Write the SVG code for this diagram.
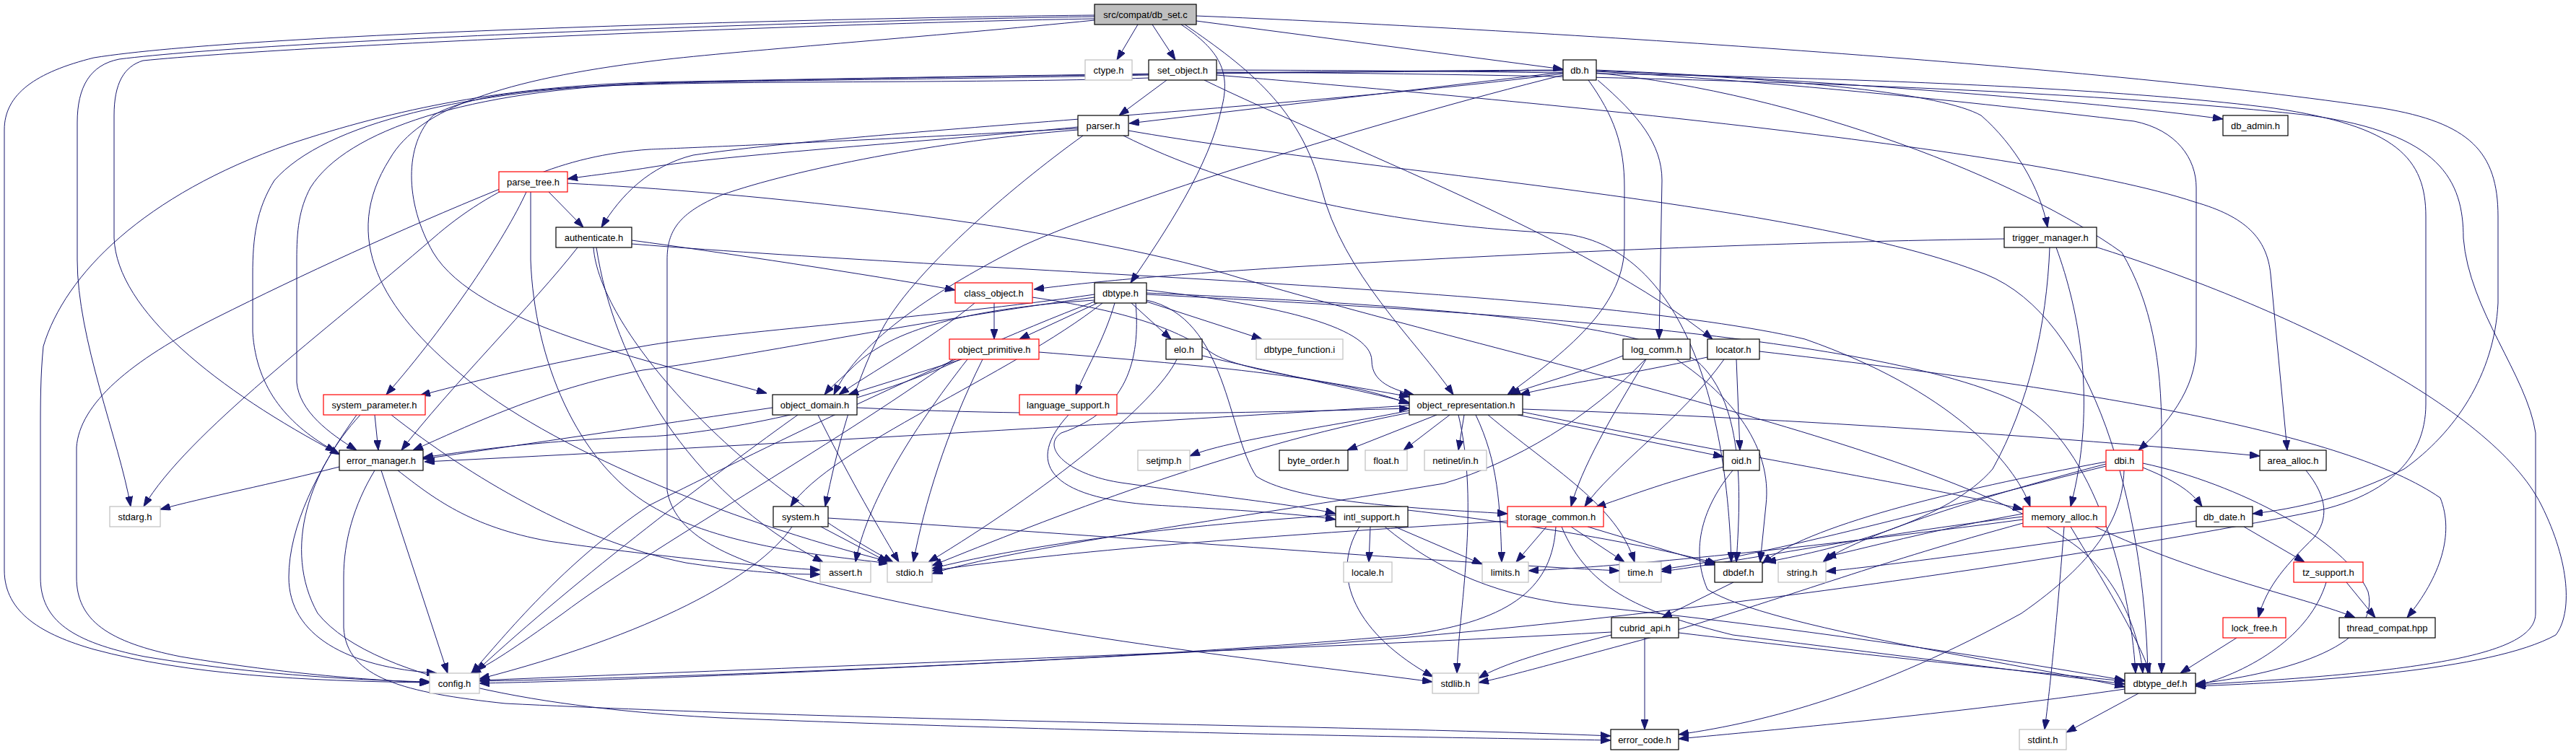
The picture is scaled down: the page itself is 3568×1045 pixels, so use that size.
<svg xmlns="http://www.w3.org/2000/svg" width="3568" height="1045" viewBox="0 0 3568 1045">
<style>
.n rect{fill:#fff;stroke:#000;stroke-width:1.2}
.n.red rect{stroke:#ff0000}
.n.ext rect{stroke:#bfbfbf}
.n.root rect{fill:#bfbfbf}
.n text{font-family:"Liberation Sans",Arial,sans-serif;font-size:13px;text-anchor:middle;fill:#000}
#edges path{fill:none;stroke:#191970;stroke-width:1;marker-end:url(#a)}
</style>
<defs>
<marker id="a" markerWidth="14" markerHeight="10" refX="14" refY="5" orient="auto" markerUnits="userSpaceOnUse"><path d="M0,0 L14,5 L0,10 z" fill="#191970" stroke="#191970" stroke-width="1"/></marker>
</defs>
<rect width="3568" height="1045" fill="#fff"/>
<g id="edges">
<path d="M1576,34 L1547,83"/>
<path d="M1596,34 L1628,83"/>
<path d="M1657,29 L2165,96"/>
<path d="M1636,34 C1690,70 1705,100 1692,150 C1675,230 1615,320 1566,392"/>
<path d="M1641,34 C1730,95 1800,150 1830,260 C1860,380 1960,470 2013,547"/>
<path d="M1516,21 C1150,25 350,45 130,80 C50,100 6,130 6,180 L6,790 C6,850 60,880 130,900 C260,935 420,944 595,946"/>
<path d="M1516,23 C1150,28 380,55 165,82 C125,90 107,120 107,170 L107,360 C107,470 165,610 181,702"/>
<path d="M1516,26 C1150,32 420,62 198,84 C172,92 158,115 158,160 L158,330 C162,430 300,540 471,630"/>
<path d="M1516,28 C1300,50 1000,72 900,85 C700,110 580,150 540,220 C470,330 530,430 640,520 C760,620 1000,720 1234,779"/>
<path d="M1657,22 C2100,40 2900,90 3300,150 C3420,170 3460,210 3460,300 L3460,420 C3455,520 3400,600 3330,650 C3250,690 3180,705 3120,712"/>
<path d="M1616,111 L1550,160"/>
<path d="M1668,111 C1850,200 2200,330 2372,470"/>
<path d="M1591,108 C1400,115 1050,112 900,117 C760,120 650,130 600,160 C560,200 560,280 600,350 C660,450 900,500 1062,545"/>
<path d="M1591,104 C1300,110 1000,112 900,116 C650,125 480,180 430,260 C414,290 411,320 411,360 L411,530 C415,570 455,600 494,624"/>
<path d="M1685,97 C2100,98 2800,105 3150,150 C3320,175 3360,220 3360,300 L3360,560 C3360,640 3300,690 3200,710 C2900,770 2300,860 1800,895 C1300,925 900,942 664,947"/>
<path d="M1685,104 C2000,130 2800,200 3040,280 C3110,300 3140,330 3145,380 L3168,624"/>
<path d="M1685,100 C2100,102 2800,115 3200,160 C3380,185 3412,250 3412,330 C3420,430 3500,520 3512,600 L3512,850 C3512,900 3400,930 3041,949"/>
<path d="M2165,100 L1564,171"/>
<path d="M2211,97 C2500,110 2900,140 3079,165"/>
<path d="M2211,98 C2500,110 2690,130 2744,160 C2790,200 2826,260 2836,315"/>
<path d="M2211,99 C2500,115 2800,150 2956,168 C3015,180 3042,220 3042,260 L3042,480 C3042,540 3000,590 2962,624"/>
<path d="M2213,111 C2270,160 2302,200 2302,250 L2298,470"/>
<path d="M2200,111 C2235,160 2250,200 2250,260 L2250,340 C2250,420 2180,480 2088,547"/>
<path d="M2165,104 C1900,170 1550,280 1418,340 C1300,400 1190,470 1155,547"/>
<path d="M2165,102 C1800,150 1200,180 960,215 C900,230 860,270 833,315"/>
<path d="M2165,98 C1700,100 1200,108 900,115 C650,125 450,170 380,250 C355,290 350,330 350,380 L350,460 C355,540 400,590 465,626"/>
<path d="M2165,97 C1700,99 1200,108 900,114 C700,120 550,150 400,200 C200,270 90,380 60,480 C56,520 56,560 56,600 L56,800 C56,860 100,890 200,910 C350,935 500,943 596,945"/>
<path d="M2211,101 C2500,130 2800,250 2939,350 C2980,420 2994,500 2994,600 L2994,933"/>
<path d="M1493,176 C1300,195 1000,215 900,232 C850,240 810,244 786,248"/>
<path d="M1493,178 C1200,195 950,205 900,207 C780,215 680,260 600,330 C450,460 260,600 199,702"/>
<path d="M1493,180 C1300,195 1100,235 1000,270 C940,295 924,320 924,360 L924,680 C935,740 1000,770 1100,800 C1400,880 1800,920 1984,945"/>
<path d="M1500,188 C1400,260 1260,380 1220,460 C1180,540 1160,620 1143,702"/>
<path d="M1563,181 C1900,240 2500,280 2750,380 C2900,440 2970,700 2975,933"/>
<path d="M1556,188 C1700,260 1900,310 2153,323 C2300,330 2390,500 2398,779"/>
<path d="M760,266 L808,315"/>
<path d="M729,266 C700,330 620,450 535,547"/>
<path d="M692,262 C550,320 420,380 300,440 C180,500 110,560 106,620 L106,800 C106,860 150,890 250,910 C400,935 520,943 596,946"/>
<path d="M735,266 L735,360 C740,500 800,640 900,700 C1000,760 1150,770 1231,781"/>
<path d="M786,254 C1100,270 1500,320 1700,380 C2100,500 2700,620 2880,760 C2950,820 2965,900 2968,933"/>
<path d="M875,333 C1000,350 1200,380 1323,402"/>
<path d="M800,343 C740,420 620,540 556,624"/>
<path d="M822,343 C830,450 1000,650 1237,779"/>
<path d="M826,343 C850,500 950,680 1140,779"/>
<path d="M875,338 C1400,380 2200,400 2500,470 C2700,540 2790,640 2812,702"/>
<path d="M2776,331 C2500,335 2180,347 1790,370 C1600,382 1500,392 1432,401"/>
<path d="M2839,343 C2835,450 2810,560 2760,650 C2700,720 2550,760 2446,779"/>
<path d="M2848,343 C2880,430 2905,560 2868,702"/>
<path d="M2902,342 C3150,420 3450,560 3520,700 C3560,780 3563,850 3540,880 C3450,930 3200,945 3041,951"/>
<path d="M1377,420 L1377,470"/>
<path d="M1350,420 C1290,470 1200,520 1162,547"/>
<path d="M1430,412 C1550,430 1620,450 1680,490 C1720,515 1850,530 1952,550"/>
<path d="M1520,420 L1412,470"/>
<path d="M1567,420 L1622,470"/>
<path d="M1588,418 L1748,470"/>
<path d="M1544,420 C1530,470 1500,520 1490,547"/>
<path d="M1516,408 C1300,440 1000,460 890,480 C750,505 650,530 582,548"/>
<path d="M1516,412 C1300,440 1000,500 890,513 C750,540 650,590 572,624"/>
<path d="M1516,416 C1300,430 1220,470 1180,510 C1165,525 1150,537 1142,547"/>
<path d="M1588,402 C1750,420 1900,450 1900,500 C1900,530 1930,540 1958,547"/>
<path d="M1527,420 C1400,520 1150,620 1095,702"/>
<path d="M1516,418 C1300,500 1000,650 900,700 C780,780 700,880 653,933"/>
<path d="M1588,406 C1900,420 2250,440 2350,500 C2420,560 2410,700 2405,779"/>
<path d="M1588,408 C2000,430 2600,460 2800,560 C2900,620 2950,800 2958,933"/>
<path d="M1573,420 C1580,500 1560,570 1470,600 C1440,620 1480,660 1560,670 C1700,690 1800,700 1850,712"/>
<path d="M1588,416 C1700,440 1700,600 1740,660 C1800,700 2000,706 2088,712"/>
<path d="M1630,498 C1600,560 1450,680 1286,779"/>
<path d="M1665,493 C1780,520 1880,540 1952,558"/>
<path d="M1480,575 C1420,640 1450,690 1600,700 C1700,706 1800,712 1850,720"/>
<path d="M1332,498 L1175,547"/>
<path d="M1330,498 C1200,560 1000,600 900,605 C750,610 650,625 586,634"/>
<path d="M1320,498 C1150,620 900,760 780,850 C710,900 680,920 652,933"/>
<path d="M1361,498 C1310,600 1280,700 1265,779"/>
<path d="M1340,498 C1260,600 1200,700 1185,779"/>
<path d="M1439,488 C1650,505 1850,520 1952,560"/>
<path d="M1070,565 C900,590 700,620 586,636"/>
<path d="M1105,575 C1000,650 800,800 660,930"/>
<path d="M1133,575 C1170,650 1210,720 1245,779"/>
<path d="M1187,565 C1500,580 1800,570 1952,566"/>
<path d="M519,575 L524,624"/>
<path d="M499,575 C430,650 390,760 440,850 C520,950 800,985 1000,995 C1500,1015 2000,1022 2231,1026"/>
<path d="M542,575 C650,660 800,750 950,780 C1050,795 1100,796 1136,796"/>
<path d="M494,575 C440,650 400,730 400,800 C400,880 480,925 605,933"/>
<path d="M470,647 C380,670 280,690 222,706"/>
<path d="M528,652 L620,933"/>
<path d="M519,652 C490,700 476,750 476,800 L476,870 C480,940 560,960 700,975 C1200,1000 1900,1006 2231,1020"/>
<path d="M551,652 C600,690 650,730 760,750 C900,770 1050,785 1136,790"/>
<path d="M1137,730 L1230,779"/>
<path d="M1097,730 C1050,800 900,880 664,941"/>
<path d="M1147,718 C1500,740 2000,780 2243,791"/>
<path d="M1898,730 L1896,779"/>
<path d="M1883,730 C1840,800 1880,880 1985,938"/>
<path d="M1932,730 L2053,782"/>
<path d="M1850,714 C1600,730 1400,760 1291,788"/>
<path d="M1918,730 C1990,790 2080,830 2200,840 C2400,860 2700,900 2943,943"/>
<path d="M1950,707 C2150,730 2300,760 2378,781"/>
<path d="M2142,730 L2100,779"/>
<path d="M2176,730 L2250,779"/>
<path d="M2199,730 L2375,783"/>
<path d="M2155,730 C2150,810 2100,860 1950,880 C1500,920 900,940 664,944"/>
<path d="M2163,730 C2200,820 2280,850 2400,880 C2600,905 2800,930 2943,948"/>
<path d="M2088,722 C1800,740 1500,760 1291,791"/>
<path d="M1990,575 L1866,624"/>
<path d="M2008,575 L1944,624"/>
<path d="M2028,575 L2020,624"/>
<path d="M2102,575 L2387,633"/>
<path d="M1952,569 C1850,590 1700,610 1648,632"/>
<path d="M1952,562 C1500,590 1000,620 588,640"/>
<path d="M2044,575 C2075,640 2078,700 2080,779"/>
<path d="M2061,575 C2150,650 2240,700 2264,779"/>
<path d="M2020,575 C2050,700 2020,850 2018,933"/>
<path d="M2109,571 C2400,630 2700,680 2802,706"/>
<path d="M1952,572 C1700,620 1450,720 1291,784"/>
<path d="M2109,567 C2500,580 2900,610 3130,632"/>
<path d="M2248,493 C2180,520 2120,535 2092,547"/>
<path d="M2280,498 C2230,580 2190,650 2176,702"/>
<path d="M2322,498 C2400,550 2455,620 2446,700 L2438,779"/>
<path d="M2279,498 C2200,580 2100,640 2000,670 C1700,720 1400,760 1291,795"/>
<path d="M2365,495 C2250,520 2150,535 2105,547"/>
<path d="M2388,498 C2330,580 2230,650 2195,702"/>
<path d="M2405,498 L2410,624"/>
<path d="M2437,487 C2900,540 3250,600 3380,690 C3400,740 3380,800 3334,856"/>
<path d="M2387,647 C2300,670 2250,690 2210,703"/>
<path d="M2400,652 C2360,700 2340,760 2365,817 C2450,870 2800,920 2943,952"/>
<path d="M2968,648 C3010,665 3035,680 3050,702"/>
<path d="M2968,642 C3100,670 3250,750 3280,820 C3300,900 3150,935 3041,948"/>
<path d="M2942,652 C2940,720 2900,780 2800,850 C2600,960 2450,1000 2325,1018"/>
<path d="M2917,640 C2700,680 2500,730 2441,781"/>
<path d="M2917,643 C2700,700 2560,750 2525,779"/>
<path d="M2917,646 C2700,700 2450,770 2301,789"/>
<path d="M3194,652 C3225,690 3225,720 3205,745 C3170,780 3140,810 3128,856"/>
<path d="M2868,730 C2910,800 2960,880 2978,933"/>
<path d="M2859,730 C2850,850 2840,950 2832,1011"/>
<path d="M2902,730 C3050,800 3200,830 3262,856"/>
<path d="M2802,712 C2700,730 2600,755 2529,772"/>
<path d="M2802,716 C2600,740 2400,780 2301,792"/>
<path d="M2802,720 C2500,760 2250,785 2117,791"/>
<path d="M2802,725 C2600,780 2500,820 2300,880 C2150,920 2080,940 2048,946"/>
<path d="M3108,730 L3192,779"/>
<path d="M3042,722 C2800,760 2600,785 2529,792"/>
<path d="M3250,807 L3290,856"/>
<path d="M3222,807 C3200,880 3120,930 3041,951"/>
<path d="M3098,884 L3020,933"/>
<path d="M2962,961 L2862,1015"/>
<path d="M2943,955 C2700,990 2450,1012 2325,1024"/>
<path d="M2401,807 L2302,856"/>
<path d="M2278,884 L2278,1011"/>
<path d="M2232,880 C2150,900 2080,920 2048,940"/>
<path d="M2232,876 C1800,900 1100,925 664,943"/>
<path d="M2325,877 C2600,910 2800,930 2943,944"/>
</g>
<g id="n_db_set_c" class="n root"><rect x="1516" y="6" width="141" height="28"/><text x="1586.5" y="24.5">src/compat/db_set.c</text></g>
<g id="n_ctype_h" class="n ext"><rect x="1503" y="83" width="65" height="28"/><text x="1535.5" y="101.5">ctype.h</text></g>
<g id="n_set_object_h" class="n"><rect x="1591" y="83" width="94" height="28"/><text x="1638" y="101.5">set_object.h</text></g>
<g id="n_db_h" class="n"><rect x="2165" y="83" width="46" height="28"/><text x="2188" y="101.5">db.h</text></g>
<g id="n_parser_h" class="n"><rect x="1493" y="160" width="70" height="28"/><text x="1528" y="178.5">parser.h</text></g>
<g id="n_db_admin_h" class="n"><rect x="3079" y="160" width="90" height="28"/><text x="3124" y="178.5">db_admin.h</text></g>
<g id="n_parse_tree_h" class="n red"><rect x="691" y="238" width="95" height="28"/><text x="738.5" y="256.5">parse_tree.h</text></g>
<g id="n_authenticate_h" class="n"><rect x="770" y="315" width="105" height="28"/><text x="822.5" y="333.5">authenticate.h</text></g>
<g id="n_trigger_manager_h" class="n"><rect x="2776" y="315" width="128" height="28"/><text x="2840" y="333.5">trigger_manager.h</text></g>
<g id="n_class_object_h" class="n red"><rect x="1323" y="392" width="107" height="28"/><text x="1376.5" y="410.5">class_object.h</text></g>
<g id="n_dbtype_h" class="n"><rect x="1516" y="392" width="72" height="28"/><text x="1552" y="410.5">dbtype.h</text></g>
<g id="n_object_primitive_h" class="n red"><rect x="1315" y="470" width="124" height="28"/><text x="1377" y="488.5">object_primitive.h</text></g>
<g id="n_elo_h" class="n"><rect x="1615" y="470" width="50" height="28"/><text x="1640" y="488.5">elo.h</text></g>
<g id="n_dbtype_function_i" class="n ext"><rect x="1740" y="470" width="120" height="28"/><text x="1800" y="488.5">dbtype_function.i</text></g>
<g id="n_log_comm_h" class="n"><rect x="2248" y="470" width="93" height="28"/><text x="2294.5" y="488.5">log_comm.h</text></g>
<g id="n_locator_h" class="n"><rect x="2365" y="470" width="72" height="28"/><text x="2401" y="488.5">locator.h</text></g>
<g id="n_system_parameter_h" class="n red"><rect x="448" y="547" width="141" height="28"/><text x="518.5" y="565.5">system_parameter.h</text></g>
<g id="n_object_domain_h" class="n"><rect x="1070" y="547" width="117" height="28"/><text x="1128.5" y="565.5">object_domain.h</text></g>
<g id="n_language_support_h" class="n red"><rect x="1412" y="547" width="135" height="28"/><text x="1479.5" y="565.5">language_support.h</text></g>
<g id="n_object_representation_h" class="n"><rect x="1952" y="547" width="157" height="28"/><text x="2030.5" y="565.5">object_representation.h</text></g>
<g id="n_error_manager_h" class="n"><rect x="470" y="624" width="116" height="28"/><text x="528" y="642.5">error_manager.h</text></g>
<g id="n_setjmp_h" class="n ext"><rect x="1576" y="624" width="72" height="28"/><text x="1612" y="642.5">setjmp.h</text></g>
<g id="n_byte_order_h" class="n"><rect x="1772" y="624" width="95" height="28"/><text x="1819.5" y="642.5">byte_order.h</text></g>
<g id="n_float_h" class="n ext"><rect x="1891" y="624" width="58" height="28"/><text x="1920" y="642.5">float.h</text></g>
<g id="n_netinet_in_h" class="n ext"><rect x="1973" y="624" width="86" height="28"/><text x="2016" y="642.5">netinet/in.h</text></g>
<g id="n_oid_h" class="n"><rect x="2387" y="624" width="50" height="28"/><text x="2412" y="642.5">oid.h</text></g>
<g id="n_dbi_h" class="n red"><rect x="2917" y="624" width="51" height="28"/><text x="2942.5" y="642.5">dbi.h</text></g>
<g id="n_area_alloc_h" class="n"><rect x="3130" y="624" width="92" height="28"/><text x="3176" y="642.5">area_alloc.h</text></g>
<g id="n_stdarg_h" class="n ext"><rect x="152" y="702" width="70" height="28"/><text x="187" y="720.5">stdarg.h</text></g>
<g id="n_system_h" class="n"><rect x="1071" y="702" width="76" height="28"/><text x="1109" y="720.5">system.h</text></g>
<g id="n_intl_support_h" class="n"><rect x="1850" y="702" width="100" height="28"/><text x="1900" y="720.5">intl_support.h</text></g>
<g id="n_storage_common_h" class="n red"><rect x="2088" y="702" width="133" height="28"/><text x="2154.5" y="720.5">storage_common.h</text></g>
<g id="n_memory_alloc_h" class="n red"><rect x="2802" y="702" width="115" height="28"/><text x="2859.5" y="720.5">memory_alloc.h</text></g>
<g id="n_db_date_h" class="n"><rect x="3042" y="702" width="78" height="28"/><text x="3081" y="720.5">db_date.h</text></g>
<g id="n_assert_h" class="n ext"><rect x="1136" y="779" width="70" height="28"/><text x="1171" y="797.5">assert.h</text></g>
<g id="n_stdio_h" class="n ext"><rect x="1229" y="779" width="62" height="28"/><text x="1260" y="797.5">stdio.h</text></g>
<g id="n_locale_h" class="n ext"><rect x="1861" y="779" width="67" height="28"/><text x="1894.5" y="797.5">locale.h</text></g>
<g id="n_limits_h" class="n ext"><rect x="2053" y="779" width="64" height="28"/><text x="2085" y="797.5">limits.h</text></g>
<g id="n_time_h" class="n ext"><rect x="2243" y="779" width="58" height="28"/><text x="2272" y="797.5">time.h</text></g>
<g id="n_dbdef_h" class="n"><rect x="2375" y="779" width="66" height="28"/><text x="2408" y="797.5">dbdef.h</text></g>
<g id="n_string_h" class="n ext"><rect x="2463" y="779" width="66" height="28"/><text x="2496" y="797.5">string.h</text></g>
<g id="n_tz_support_h" class="n red"><rect x="3177" y="779" width="96" height="28"/><text x="3225" y="797.5">tz_support.h</text></g>
<g id="n_cubrid_api_h" class="n"><rect x="2232" y="856" width="93" height="28"/><text x="2278.5" y="874.5">cubrid_api.h</text></g>
<g id="n_lock_free_h" class="n red"><rect x="3079" y="856" width="87" height="28"/><text x="3122.5" y="874.5">lock_free.h</text></g>
<g id="n_thread_compat_hpp" class="n"><rect x="3240" y="856" width="133" height="28"/><text x="3306.5" y="874.5">thread_compat.hpp</text></g>
<g id="n_config_h" class="n ext"><rect x="595" y="933" width="69" height="28"/><text x="629.5" y="951.5">config.h</text></g>
<g id="n_stdlib_h" class="n ext"><rect x="1984" y="933" width="64" height="28"/><text x="2016" y="951.5">stdlib.h</text></g>
<g id="n_dbtype_def_h" class="n"><rect x="2943" y="933" width="98" height="28"/><text x="2992" y="951.5">dbtype_def.h</text></g>
<g id="n_error_code_h" class="n"><rect x="2231" y="1011" width="94" height="28"/><text x="2278" y="1029.5">error_code.h</text></g>
<g id="n_stdint_h" class="n ext"><rect x="2797" y="1011" width="65" height="28"/><text x="2829.5" y="1029.5">stdint.h</text></g>
</svg>
